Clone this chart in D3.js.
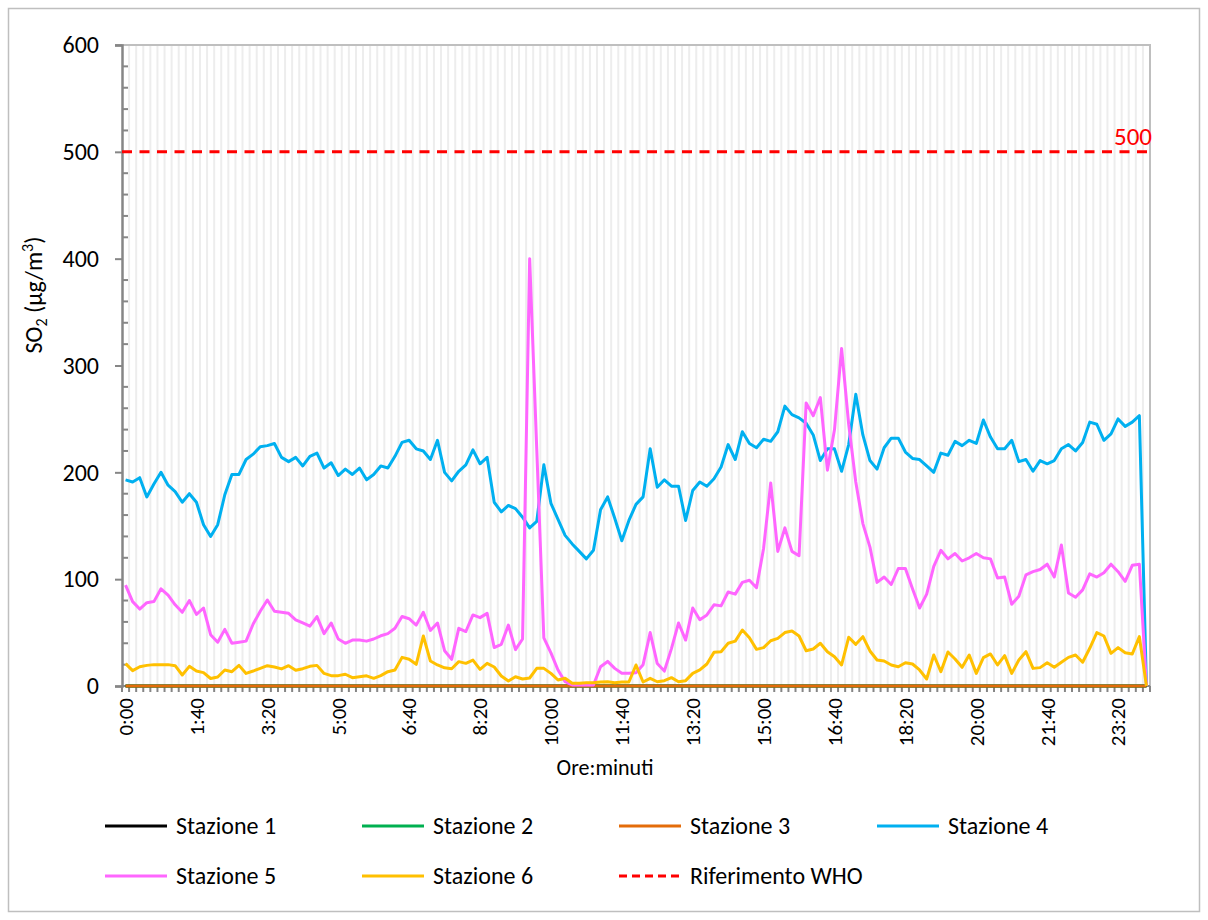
<!DOCTYPE html>
<html>
<head>
<meta charset="utf-8">
<script src="https://cdn.jsdelivr.net/npm/d3@7"></script>
<style>
  body { margin: 0; background: #fff; }
  svg text { font-family: Carlito, Calibri, "Liberation Sans", Arial, sans-serif; }
</style>
</head>
<body>
<svg id="chart" width="1208" height="920"></svg>
<script>
// SO2 - rilevazioni ogni 10 minuti (0:00 .. 24:00)
const categories = d3.range(145).map(i => `${Math.floor(i * 10 / 60)}:${String(i * 10 % 60).padStart(2, "0")}`);
const tickLabels = ["0:00", "1:40", "3:20", "5:00", "6:40", "8:20", "10:00", "11:40",
                    "13:20", "15:00", "16:40", "18:20", "20:00", "21:40", "23:20"];
const yTicks = [0, 100, 200, 300, 400, 500, 600];
const whoLimit = 500;

const stazione1 = [0,0,0,0,0,0,0,0,0,0, 0,0,0,0,0,0,0,0,0,0, 0,0,0,0,0,0,0,0,0,0, 0,0,0,0,0,0,0,0,0,0,
  0,0,0,0,0,0,0,0,0,0, 0,0,0,0,0,0,0,0,0,0, 0,0,0,0,0,0,0,0,0,0, 0,0,0,0,0,0,0,0,0,0,
  0,0,0,0,0,0,0,0,0,0, 0,0,0,0,0,0,0,0,0,0, 0,0,0,0,0,0,0,0,0,0, 0,0,0,0,0,0,0,0,0,0,
  0,0,0,0,0,0,0,0,0,0, 0,0,0,0,0,0,0,0,0,0, 0,0,0,0,0];
const stazione2 = [0,0,0,0,0,0,0,0,0,0, 0,0,0,0,0,0,0,0,0,0, 0,0,0,0,0,0,0,0,0,0, 0,0,0,0,0,0,0,0,0,0,
  0,0,0,0,0,0,0,0,0,0, 0,0,0,0,0,0,0,0,0,0, 0,0,0,0,0,0,0,0,0,0, 0,0,0,0,0,0,0,0,0,0,
  0,0,0,0,0,0,0,0,0,0, 0,0,0,0,0,0,0,0,0,0, 0,0,0,0,0,0,0,0,0,0, 0,0,0,0,0,0,0,0,0,0,
  0,0,0,0,0,0,0,0,0,0, 0,0,0,0,0,0,0,0,0,0, 0,0,0,0,0];
const stazione3 = [0,0,0,0,0,0,0,0,0,0, 0,0,0,0,0,0,0,0,0,0, 0,0,0,0,0,0,0,0,0,0, 0,0,0,0,0,0,0,0,0,0,
  0,0,0,0,0,0,0,0,0,0, 0,0,0,0,0,0,0,0,0,0, 0,0,0,0,0,0,0,0,0,0, 0,0,0,0,0,0,0,0,0,0,
  0,0,0,0,0,0,0,0,0,0, 0,0,0,0,0,0,0,0,0,0, 0,0,0,0,0,0,0,0,0,0, 0,0,0,0,0,0,0,0,0,0,
  0,0,0,0,0,0,0,0,0,0, 0,0,0,0,0,0,0,0,0,0, 0,0,0,0,0];
const stazione4 = [
  193,191,195,177,189,200,188,182,172,180,
  172,151,140,151,179,198,198,212,217,224,
  225,227,214,210,214,206,215,218,204,209,
  197,203,198,204,193,198,206,204,215,228,
  230,222,220,212,230,200,192,201,207,221,
  208,214,172,163,169,166,158,148,154,207,
  171,156,141,133,126,119,127,165,177,157,
  136,155,170,177,222,186,193,187,187,155,
  183,191,187,194,205,226,212,238,227,223,
  231,229,238,262,254,251,246,235,211,222,
  222,201,226,273,235,211,203,223,232,232,
  219,213,212,206,200,218,216,229,225,230,
  227,249,233,222,222,230,210,212,201,211,
  208,211,222,226,220,228,247,245,230,236,
  250,243,247,253,0];
const stazione5 = [
  94.5,79,72,78,79,91,85,76,69,80,
  67,73,48,41,53,40,41,42,58,70,
  80.5,70,69,68,62,59,56,65,49,59,
  44,40,43,43,42,44,47,49,54,65,
  63,57,69,52,59,33,25,54,51,66.5,
  64,68,36,39,57,34,44,400,222,45,
  31,15,4,1,1,1,1,18,23,16.5,
  12,12,12.5,20,50,21,14,35,59,43,
  73,62,66.5,76,75,88,86,97,99,92,
  129,190,126,148,126,122,265,253,270,202,
  240,316,245,191,152,130,97,102,95,110,
  110,91,73,86,112,127,119,124,117,120,
  124,120,119,101,102,76.5,84,104,107,109,
  114,102,132,87,83,90,105,102,106,114,
  107,98,113,114,0];
const stazione6 = [
  21,14.4,18,19.3,20,20,20,19,10.3,18.4,
  14,12.5,7,8.4,15,13.4,19.3,11.8,14,16.5,
  19,17.8,16,19,14.7,16.2,18.4,19.3,11.8,9.7,
  9.7,11,7.8,8.7,9.5,7.2,9.7,13.4,15,26.8,
  25,20.3,46.8,23.4,19.7,17,16.2,22.8,21.2,24.3,
  15.6,21.2,17.8,9.4,4.7,8.7,6.6,7.5,16.5,16.5,
  11.8,5.6,7.2,2.5,2.5,3.1,3.1,3.7,4,3.1,
  3.7,3.7,19.7,3.7,7.2,4,5,7.8,4,5,
  11.8,15,20.6,31.5,32.1,40,42,52.4,45.2,34.3,
  35.9,42.4,44.6,50,51.5,46.8,33,34.6,40,32.1,
  27.4,19.7,45.6,39,46.2,32.8,24.3,23.4,19.7,18,
  21.8,20.6,15,6.6,29,13.4,31.8,25.3,17.5,29,
  11.8,26.5,30,19.7,28.4,11.8,24.3,32.1,16.5,17.2,
  21.8,17.5,22.2,26.8,29,22.2,35.3,50,46.8,30.6,
  35.9,31.2,30,46.2,0];

const series = [
  {name: "Stazione 1", values: stazione1, color: "#000000"},
  {name: "Stazione 2", values: stazione2, color: "#00b050"},
  {name: "Stazione 3", values: stazione3, color: "#e46c0a"},
  {name: "Stazione 4", values: stazione4, color: "#00b0f0"},
  {name: "Stazione 5", values: stazione5, color: "#ff66ff"},
  {name: "Stazione 6", values: stazione6, color: "#ffc000"}
];

const margin = {top: 45, right: 58, bottom: 234, left: 122},
      width = 1208, height = 920;

const svg = d3.select("#chart");

// outer frame
svg.append("rect")
    .attr("x", 8.5).attr("y", 8.5)
    .attr("width", width - 17).attr("height", height - 17)
    .attr("fill", "#fff")
    .attr("stroke", "#bfbfbf")
    .attr("stroke-width", 1.5);

let x = d3.scaleBand()
    .domain(categories)
    .range([margin.left, width - margin.right])
    .padding(0);
let y = d3.scaleLinear()
    .domain([0, 600])
    .range([height - margin.bottom, margin.top]);

const xMid = d => x(d) + x.bandwidth() / 2;

// vertical gridlines at category boundaries
const bounds = categories.map(c => x(c)).concat([x.range()[1]]);
svg.append("g")
    .attr("stroke", "#ededed")
    .attr("stroke-width", 2)
  .selectAll("line")
  .data(bounds.slice(1, -1))
  .join("line")
    .attr("x1", d => d).attr("x2", d => d)
    .attr("y1", y(600)).attr("y2", y(0));

// plot border (top / right)
svg.append("path")
    .attr("d", `M${margin.left - 7},${y(600)}H${x.range()[1]}V${y(0)}`)
    .attr("fill", "none")
    .attr("stroke", "#bfbfbf")
    .attr("stroke-width", 2);

// y axis
const yAxis = svg.append("g")
    .attr("transform", `translate(${margin.left},0)`)
    .call(d3.axisLeft(y).tickValues(yTicks).tickSize(7).tickPadding(16));
yAxis.select(".domain").attr("stroke", "#868686").attr("stroke-width", 2.5);
yAxis.selectAll(".tick line").attr("stroke", "#868686").attr("stroke-width", 2);
yAxis.selectAll(".tick text")
    .attr("font-size", 24)
    .attr("font-family", null)
    .attr("fill", "#000");

const minor = d3.range(0, 601, 20).filter(v => v % 100 !== 0);
svg.append("g")
    .attr("stroke", "#868686")
    .attr("stroke-width", 2)
  .selectAll("line")
  .data(minor)
  .join("line")
    .attr("x1", margin.left).attr("x2", margin.left + 6)
    .attr("y1", d => y(d)).attr("y2", d => y(d));

// x axis
svg.append("line")
    .attr("x1", margin.left).attr("x2", x.range()[1])
    .attr("y1", y(0)).attr("y2", y(0))
    .attr("stroke", "#868686").attr("stroke-width", 2);
svg.append("g")
    .attr("stroke", "#868686")
    .attr("stroke-width", 2)
  .selectAll("line")
  .data(bounds)
  .join("line")
    .attr("x1", d => d).attr("x2", d => d)
    .attr("y1", y(0)).attr("y2", y(0) + 6);

const xAxis = svg.append("g")
    .attr("transform", `translate(0,${y(0)})`)
    .call(d3.axisBottom(x).tickValues(tickLabels).tickSize(0));
xAxis.select(".domain").remove();
xAxis.selectAll(".tick text")
    .attr("font-size", 21)
    .attr("font-family", null)
    .attr("fill", "#000")
    .attr("text-anchor", "end")
    .attr("transform", "rotate(-90)")
    .attr("x", -12)
    .attr("y", 0)
    .attr("dy", "0.35em");

// series
let line = d3.line()
    .x((d, i) => xMid(categories[i]))
    .y(d => y(d));

svg.append("g")
    .attr("fill", "none")
    .attr("stroke-width", 3)
    .attr("stroke-linejoin", "round")
  .selectAll("path")
  .data(series)
  .join("path")
    .attr("stroke", d => d.color)
    .attr("d", d => line(d.values));

// WHO reference
svg.append("line")
    .attr("x1", margin.left).attr("x2", x.range()[1])
    .attr("y1", y(whoLimit)).attr("y2", y(whoLimit))
    .attr("stroke", "#ff0000")
    .attr("stroke-width", 3)
    .attr("stroke-dasharray", "10,7.5");
svg.append("text")
    .attr("x", x.range()[1] + 2)
    .attr("y", y(whoLimit) - 7)
    .attr("text-anchor", "end")
    .attr("font-size", 25)
    .attr("fill", "#ff0000")
    .text(whoLimit);

// axis titles
const yTitle = svg.append("text")
    .attr("transform", "translate(42,295) rotate(-90)")
    .attr("text-anchor", "middle")
    .attr("font-size", 24);
yTitle.append("tspan").text("SO");
yTitle.append("tspan").attr("font-size", 16).attr("dy", 5).text("2");
yTitle.append("tspan").attr("dy", -5).text(" (µg/m");
yTitle.append("tspan").attr("font-size", 16).attr("dy", -9).text("3");
yTitle.append("tspan").attr("dy", 9).text(")");

svg.append("text")
    .attr("x", 605)
    .attr("y", 775)
    .attr("text-anchor", "middle")
    .attr("font-size", 22)
    .text("Ore:minuti");

// legend
const legendItems = series.map(d => ({name: d.name, color: d.color, dash: null}))
  .concat([{name: "Riferimento WHO", color: "#ff0000", dash: "8,5"}]);
const colX = [105, 362, 619, 877], rowY = [826, 876];

const legend = svg.append("g")
  .selectAll("g")
  .data(legendItems)
  .join("g")
    .attr("transform", (d, i) => `translate(${colX[i % 4]},${rowY[Math.floor(i / 4)]})`);
legend.append("line")
    .attr("x1", 0).attr("x2", 62)
    .attr("stroke", d => d.color)
    .attr("stroke-width", 3)
    .attr("stroke-dasharray", d => d.dash);
legend.append("text")
    .attr("x", 71)
    .attr("dy", "0.35em")
    .attr("font-size", 24)
    .text(d => d.name);
</script>
</body>
</html>
